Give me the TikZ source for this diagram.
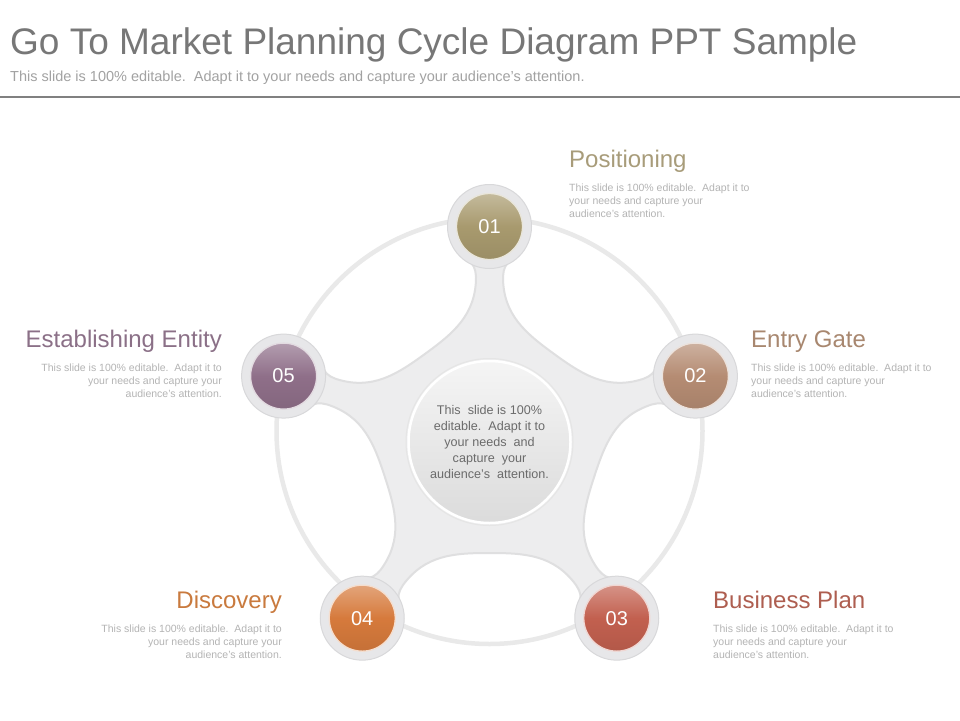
\documentclass[tikz,border=0pt]{standalone}
\usepackage{fontspec}
\setmainfont{Liberation Sans}
\definecolor{titlegray}{HTML}{777777}
\definecolor{subgray}{HTML}{A2A2A2}
\definecolor{linegray}{HTML}{808080}
\definecolor{ringcol}{HTML}{E9E9E9}
\definecolor{starfill}{HTML}{EDEDEE}
\definecolor{stardraw}{HTML}{DFDFE0}
\definecolor{discfill}{HTML}{E7E7E9}
\definecolor{discdraw}{HTML}{D8D8DA}
\definecolor{desccol}{HTML}{B4B4B4}
\definecolor{ctrtext}{HTML}{6B6B6B}
\definecolor{cA}{HTML}{A89A6E}
\definecolor{cB}{HTML}{B58C73}
\definecolor{cC}{HTML}{C2604F}
\definecolor{cD}{HTML}{D67A3C}
\definecolor{cE}{HTML}{8F6F89}
\definecolor{hA}{HTML}{A89C7A}
\definecolor{hB}{HTML}{A8876F}
\definecolor{hC}{HTML}{AE5E50}
\definecolor{hD}{HTML}{C97A3E}
\definecolor{hE}{HTML}{8B7087}
\tikzset{
  disc/.style={circle, minimum size=84pt, inner sep=0pt, fill=discfill, draw=discdraw, line width=1pt},
  ball/.style={circle, minimum size=66pt, inner sep=0pt, top color=#1!68!white, bottom color=#1!92!black, middle color=#1,
     draw=#1!25!white, line width=1.3pt, text=white, font=\fontsize{20}{22}\selectfont},
  head/.style={inner sep=0pt, font=\fontsize{24}{28}\selectfont},
  desc/.style={inner sep=0pt, text=desccol, font=\fontsize{10.5}{13}\selectfont}
}
\begin{document}
\begin{tikzpicture}[x=1pt,y=-1pt]
\useasboundingbox (0,0) rectangle (960,720);
\fill[white] (0,0) rectangle (960,720);

% title block
\node[anchor=base west, inner sep=0pt, text=titlegray, font=\fontsize{37}{40}\selectfont] (title) at (10,54) {Go To Market Planning Cycle Diagram PPT Sample};
\node[anchor=base west, inner sep=0pt, text=subgray, font=\fontsize{14.5}{16}\selectfont] (subtitle) at (10,81) {This slide is 100\% editable.\ \ Adapt it to your needs and capture your audience's attention.};
\draw[linegray, line width=2.5pt] (0,97) -- (960,97);

% outer ring
\draw[ringcol, line width=4.5pt] (489.5,431) circle[radius=213];

\begin{scope}[shift={(489.5,443)}, yscale=-1]
  % star body
  \path[fill=starfill, draw=stardraw, line width=2pt]
    (82.65:187.54)
    \foreach \a in {90,18,-54,-126,-198}{
      -- ({\a-7.35}:187.54) .. controls ({\a-4.71}:176.6) .. ({\a-4.65}:166.55)
      .. controls ({\a-6.02}:128.71) and ({\a-18.44}:115.4) .. ({\a-36}:110)
      .. controls ({\a-53.56}:115.4) and ({\a-65.98}:128.71) .. ({\a-67.35}:166.55)
      .. controls ({\a-67.29}:176.6) .. ({\a-64.65}:187.54)
    } -- cycle;

  % outer discs
  \node[disc] (o1) at (90:216.5) {};
  \node[disc] (o2) at (18:216.5) {};
  \node[disc] (o3) at (-54:216.5) {};
  \node[disc] (o4) at (-126:216.5) {};
  \node[disc] (o5) at (162:216.5) {};
  % coloured balls
  \node[ball=cA] (n1) at (o1) {01};
  \node[ball=cB] (n2) at (o2) {02};
  \node[ball=cC] (n3) at (o3) {03};
  \node[ball=cD] (n4) at (o4) {04};
  \node[ball=cE] (n5) at (o5) {05};

  % centre circle
  \draw[gray!20, line width=1pt] (0,1) circle[radius=83.5];
  \node[circle, minimum size=162pt, inner sep=0pt, draw=white, line width=2.5pt,
        top color=black!4, bottom color=black!14] (ctr) at (0,1) {};
\end{scope}

\node[align=center, text=ctrtext, font=\fontsize{12.6}{16}\selectfont, inner sep=0pt] (ctrtxt) at (ctr.center)
  {This\ \ slide is 100\%\\editable.\ \ Adapt it to\\your needs\ \ and\\capture\ \ your\\audience's\ \ attention.};

% labels
\node[head, text=hA, anchor=base west] (t1) at (569,167) {Positioning};
\node[desc, anchor=north west, align=left] (d1) at (569,184) {This slide is 100\% editable.\ \ Adapt it to\\your needs and capture your\\audience's attention.};

\node[head, text=hB, anchor=base west] (t2) at (751,347) {Entry Gate};
\node[desc, anchor=north west, align=left] (d2) at (751,364) {This slide is 100\% editable.\ \ Adapt it to\\your needs and capture your\\audience's attention.};

\node[head, text=hC, anchor=base west] (t3) at (713,608) {Business Plan};
\node[desc, anchor=north west, align=left] (d3) at (713,625) {This slide is 100\% editable.\ \ Adapt it to\\your needs and capture your\\audience's attention.};

\node[head, text=hD, anchor=base east] (t4) at (282,608) {Discovery};
\node[desc, anchor=north east, align=right] (d4) at (282,625) {This slide is 100\% editable.\ \ Adapt it to\\your needs and capture your\\audience's attention.};

\node[head, text=hE, anchor=base east] (t5) at (222,347) {Establishing Entity};
\node[desc, anchor=north east, align=right] (d5) at (222,364) {This slide is 100\% editable.\ \ Adapt it to\\your needs and capture your\\audience's attention.};
\end{tikzpicture}
\end{document}
